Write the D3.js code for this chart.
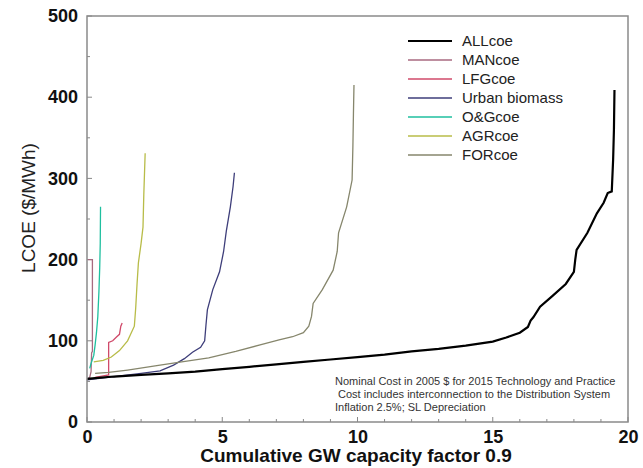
<!DOCTYPE html>
<html>
<head>
<meta charset="utf-8">
<script src="https://cdn.jsdelivr.net/npm/d3@7"></script>
<style>
  body { margin: 0; background: #fff; }
  svg text { font-family: "Liberation Sans", Arial, sans-serif; }
</style>
</head>
<body>
<div id="chart-container"></div>
<script>
// series: [cumulative GW, LCOE $/MWh]
const allcoe = [[0,53],[0.3,54],[1,56],[2,58],[3,60],[4,62],[5,65],[6,68],[7,71],[8,74],[9,77],[10,80],[11,83],[12,87],[13,90],[14,94],[15,99],[15.5,104],[16,110],[16.3,117],[16.4,125],[16.5,129],[16.75,142],[17.2,155],[17.7,170],[18.0,185],[18.05,200],[18.1,212],[18.5,233],[18.85,257],[19.1,270],[19.25,282],[19.4,284],[19.45,323],[19.48,360],[19.5,409]];
const mancoe = [[0,52],[0.1,55],[0.15,62],[0.17,85],[0.2,87],[0.2,200],[0.03,200]];
const lfgcoe = [[0.3,55],[0.8,58],[0.8,98],[0.95,100],[1.1,105],[1.2,108],[1.25,118],[1.3,122]];
const urban = [[0,52],[1,56],[2,60],[2.7,63],[3.2,70],[3.6,78],[3.9,86],[4.2,92],[4.35,100],[4.4,120],[4.45,138],[4.65,163],[4.9,185],[5.05,210],[5.15,235],[5.3,265],[5.4,290],[5.45,307]];
const ogcoe = [[0.1,66],[0.15,72],[0.25,82],[0.3,95],[0.35,110],[0.4,130],[0.44,160],[0.47,190],[0.49,220],[0.5,265]];
const agrcoe = [[0.25,74],[0.6,76],[0.9,80],[1.2,88],[1.5,100],[1.75,118],[1.8,140],[1.85,170],[1.9,196],[2.0,220],[2.07,240],[2.1,280],[2.15,331]];
const forcoe = [[0.3,60],[0.8,61],[1.5,64],[2.7,70],[3.5,74],[4.5,79],[5.5,87],[6.4,95],[7.1,101],[7.6,105],[8.0,110],[8.2,118],[8.3,130],[8.36,146],[8.7,163],[9.1,187],[9.25,210],[9.3,233],[9.6,265],[9.8,298],[9.83,340],[9.85,380],[9.87,415]];

const seriesNames = ["ALLcoe", "MANcoe", "LFGcoe", "Urban biomass", "O&Gcoe", "AGRcoe", "FORcoe"];
const seriesData = [allcoe, mancoe, lfgcoe, urban, ogcoe, agrcoe, forcoe];
const seriesColors = ["#000000", "#a86a80", "#d04a6a", "#3e3e7a", "#1fbf9f", "#b8bc48", "#86866c"];

const xTicks = [0, 5, 10, 15, 20];
const yTicks = [0, 100, 200, 300, 400, 500];
const notes = [
    "Nominal Cost in 2005 $ for 2015 Technology and Practice",
    " Cost includes interconnection to the Distribution System",
    "Inflation 2.5%; SL Depreciation"
];

const margin = { top: 16, right: 15, bottom: 46, left: 87 };
const width = 643 - margin.left - margin.right;
const height = 468 - margin.top - margin.bottom;

const svg = d3.select("#chart-container")
    .append("svg")
    .attr("width", 643)
    .attr("height", 468)
    .append("g")
    .attr("transform", `translate(${margin.left}, ${margin.top})`);

const x = d3.scaleLinear().domain([0, 20]).range([0, width]);
const y = d3.scaleLinear().domain([0, 500]).range([height, 0]);

// minor ticks (inside)
svg.selectAll(".xminor")
    .data(d3.range(0, 21, 1))
    .join("line")
    .attr("x1", d => x(d)).attr("x2", d => x(d))
    .attr("y1", height).attr("y2", d => height - (d % 5 === 0 ? 5 : 3))
    .attr("stroke", "#888");

svg.selectAll(".yminor")
    .data(d3.range(0, 501, 50))
    .join("line")
    .attr("y1", d => y(d)).attr("y2", d => y(d))
    .attr("x1", 0).attr("x2", d => (d % 100 === 0 ? 5 : 3))
    .attr("stroke", "#888");

// axis labels
svg.append("g")
    .attr("transform", `translate(0,${height})`)
    .call(d3.axisBottom(x).tickValues(xTicks).tickSize(0).tickPadding(8))
    .call(g => g.select(".domain").remove())
    .selectAll("text")
    .attr("font-size", "18px")
    .attr("font-weight", "bold")
    .attr("fill", "#111")
    .style("font-family", "Liberation Sans, Arial, sans-serif");

svg.append("g")
    .call(d3.axisLeft(y).tickValues(yTicks).tickSize(0).tickPadding(9))
    .call(g => g.select(".domain").remove())
    .selectAll("text")
    .attr("font-size", "18px")
    .attr("font-weight", "bold")
    .attr("fill", "#111")
    .style("font-family", "Liberation Sans, Arial, sans-serif");

const line = d3.line()
    .x(d => x(d[0]))
    .y(d => y(d[1]));

// draw others first, ALLcoe on top
seriesData.forEach((s, i) => {
    if (i === 0) return;
    svg.append("path")
        .datum(s)
        .attr("fill", "none")
        .attr("stroke", seriesColors[i])
        .attr("stroke-width", 1.3)
        .attr("d", line);
});
svg.append("path")
    .datum(allcoe)
    .attr("fill", "none")
    .attr("stroke", seriesColors[0])
    .attr("stroke-width", 2.2)
    .attr("d", line);

// frame
svg.append("rect")
    .attr("width", width)
    .attr("height", height)
    .attr("fill", "none")
    .attr("stroke", "#8a8a8a")
    .attr("stroke-width", 1.5);

// legend
const legend = svg.append("g")
    .attr("transform", `translate(${408 - margin.left}, ${41 - margin.top})`);
seriesNames.forEach((name, i) => {
    legend.append("line")
        .attr("x1", 0).attr("x2", 44)
        .attr("y1", i * 19).attr("y2", i * 19)
        .attr("stroke", seriesColors[i])
        .attr("stroke-width", i === 0 ? 2.2 : 1.3);
    legend.append("text")
        .attr("x", 54)
        .attr("y", i * 19)
        .attr("dy", "0.35em")
        .attr("font-size", "15px")
        .attr("fill", "#222")
        .text(name);
});

// notes
svg.selectAll(".note")
    .data(notes)
    .join("text")
    .attr("x", 335 - margin.left)
    .attr("y", (d, i) => 385 - margin.top + i * 13)
    .attr("font-size", "11px")
    .attr("fill", "#333")
    .style("white-space", "pre")
    .text(d => d);

// axis titles
svg.append("text")
    .attr("x", 356 - margin.left)
    .attr("y", 462 - margin.top)
    .attr("text-anchor", "middle")
    .attr("font-size", "19px")
    .attr("font-weight", "bold")
    .attr("fill", "#111")
    .text("Cumulative GW capacity factor 0.9");

svg.append("text")
    .attr("transform", "rotate(-90)")
    .attr("x", -(208 - margin.top))
    .attr("y", 28 - margin.left)
    .attr("dy", "0.35em")
    .attr("text-anchor", "middle")
    .attr("font-size", "19px")
    .attr("fill", "#222")
    .text("LCOE ($/MWh)");
</script>
</body>
</html>
